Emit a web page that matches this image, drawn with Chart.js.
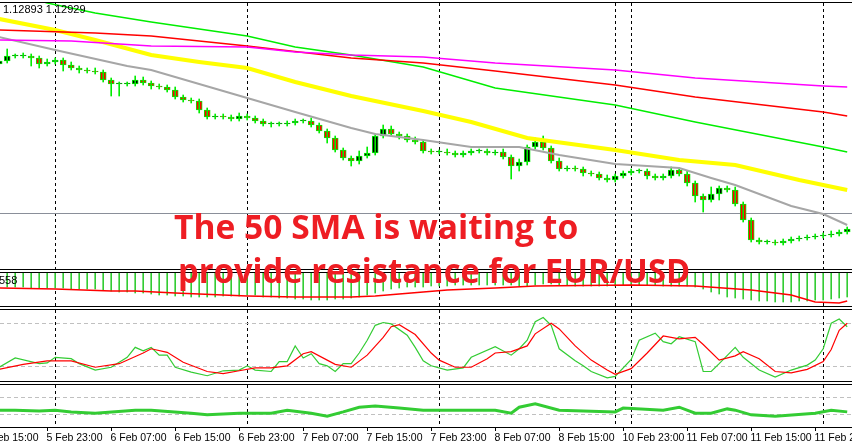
<!DOCTYPE html>
<html>
<head>
<meta charset="utf-8">
<script src="https://cdn.jsdelivr.net/npm/chart.js@4"></script>
<style>
  body { margin:0; width:852px; height:448px; background:#fff; overflow:hidden; position:relative; font-family:"Liberation Sans", sans-serif; }
  .pane { position:absolute; left:0; width:852px; }
  .hl { position:absolute; left:0; width:852px; height:1px; background:#000; }
  .big { position:absolute; color:#ee1d23; font-family:"Open Sans", sans-serif; font-weight:700; font-size:34px; line-height:34px; white-space:nowrap; transform-origin:0 0; z-index:5; }
  .lbl { position:absolute; font-size:11px; color:#000; z-index:4; }
</style>
</head>
<body>
<div class="pane" style="top:3px;height:266px"><canvas id="cMain"></canvas></div>
<div class="pane" style="top:273px;height:33px"><canvas id="cMacd"></canvas></div>
<div class="pane" style="top:310px;height:71px"><canvas id="cStoch"></canvas></div>
<div class="pane" style="top:385px;height:63px"><canvas id="cLow"></canvas></div>
<div class="hl" style="top:2px"></div>
<div class="hl" style="top:269px"></div>
<div class="hl" style="top:272px"></div>
<div class="hl" style="top:306px"></div>
<div class="hl" style="top:309px"></div>
<div class="hl" style="top:381px"></div>
<div class="hl" style="top:384px"></div>
<div class="hl" style="top:427px"></div>
<div class="lbl" style="left:3px;top:3px">1.12893 1.12929</div>
<div class="lbl" style="left:-1px;top:274px">558</div>
<div class="big" id="t1" style="left:174px;top:209px">The 50 SMA is waiting to</div>
<div class="big" id="t2" style="left:178px;top:253px">provide resistance for EUR/USD</div>
<script>
// H1 candles, 5 Feb 17:00 -> 12 Feb 01:00
const closes = [1.13228,1.13238,1.13238,1.13238,1.13234,1.13222,1.13226,1.13230,1.13220,1.13214,
  1.13210,1.13208,1.13206,1.13190,1.13182,1.13182,1.13182,1.13190,1.13184,1.13178,
  1.13176,1.13170,1.13156,1.13150,1.13148,1.13130,1.13116,1.13118,1.13116,1.13112,
  1.13118,1.13114,1.13108,1.13102,1.13102,1.13102,1.13104,1.13108,1.13108,1.13100,
  1.13088,1.13074,1.13050,1.13034,1.13028,1.13038,1.13044,1.13078,1.13092,1.13082,
  1.13078,1.13070,1.13066,1.13048,1.13046,1.13046,1.13044,1.13040,1.13044,1.13048,
  1.13048,1.13044,1.13046,1.13036,1.13018,1.13026,1.13056,1.13066,1.13054,1.13028,
  1.13012,1.13014,1.13012,1.13004,1.13002,1.12994,1.12990,1.12998,1.13004,1.13008,
  1.13008,1.12998,1.12994,1.12998,1.13010,1.13002,1.12984,1.12958,1.12950,1.12962,
  1.12974,1.12970,1.12942,1.12910,1.12870,1.12866,1.12866,1.12864,1.12868,1.12872,
  1.12874,1.12876,1.12878,1.12880,1.12882,1.12886,1.12892];
const opens = [1.13222,1.13228,1.13238,1.13238,1.13238,1.13234,1.13222,1.13226,1.13230,1.13220,
  1.13214,1.13210,1.13208,1.13206,1.13190,1.13182,1.13182,1.13182,1.13190,1.13184,
  1.13178,1.13176,1.13170,1.13156,1.13150,1.13148,1.13130,1.13116,1.13118,1.13116,
  1.13112,1.13118,1.13114,1.13108,1.13102,1.13102,1.13102,1.13104,1.13108,1.13108,
  1.13100,1.13088,1.13074,1.13050,1.13034,1.13028,1.13038,1.13044,1.13078,1.13092,
  1.13082,1.13078,1.13070,1.13066,1.13048,1.13046,1.13046,1.13044,1.13040,1.13044,
  1.13048,1.13048,1.13044,1.13046,1.13036,1.13018,1.13026,1.13056,1.13066,1.13054,
  1.13028,1.13012,1.13014,1.13012,1.13004,1.13002,1.12994,1.12990,1.12998,1.13004,
  1.13008,1.13008,1.12998,1.12994,1.12998,1.13010,1.13002,1.12984,1.12958,1.12950,
  1.12962,1.12974,1.12970,1.12942,1.12910,1.12870,1.12866,1.12866,1.12864,1.12868,
  1.12872,1.12874,1.12876,1.12878,1.12880,1.12882,1.12886];
// wick lengths in pips
const wickUp = [0.6,1.4,0.4,0.6,0.4,0.4,0.6,0.4,0.4,0.6, 0.4,0.4,0.6,0.4,0.4,0.4,0.4,0.8,0.6,0.4,
  0.4,0.4,0.6,0.4,0.4,0.4,0.4,0.4,0.4,0.4, 0.6,0.4,0.4,0.4,0.4,0.4,0.4,0.4,0.4,0.6,
  0.4,0.4,0.4,0.4,0.4,1.0,1.2,0.4,0.8,0.6, 0.4,0.4,0.6,0.4,0.4,0.4,0.6,0.4,0.4,0.4,
  0.4,0.4,0.4,0.6,0.4,0.6,0.4,0.8,1.2,0.4, 0.6,0.4,0.4,0.4,0.4,0.4,0.6,0.4,0.4,0.4,
  0.4,0.4,0.4,0.4,0.6,0.4,0.6,0.4,0.4,1.4, 0.4,0.4,0.6,0.4,0.4,0.4,0.4,0.4,0.4,0.4,
  0.4,0.4,0.4,0.4,0.6,0.4,0.4];
const wickDn = [0.4,0.4,0.4,0.4,1.6,0.8,0.4,0.4,1.2,0.4, 0.6,0.4,0.4,0.4,2.4,2.4,0.4,0.4,0.4,0.6,
  0.4,0.4,0.4,0.4,0.4,0.6,0.4,0.4,0.4,0.4, 0.4,0.4,0.4,0.4,0.6,0.4,0.4,0.4,0.4,0.4,
  0.4,1.0,0.4,0.4,1.0,0.6,0.4,0.4,0.4,0.4, 0.6,0.4,0.4,0.4,0.4,0.4,0.4,0.4,0.4,0.4,
  0.4,0.4,0.4,0.4,2.6,1.0,0.6,0.4,0.4,0.4, 0.4,0.4,0.4,0.6,0.4,0.4,0.4,0.4,0.4,0.4,
  0.4,0.6,0.4,0.4,0.4,0.4,0.6,1.2,2.4,0.4, 1.2,0.4,0.4,0.4,0.4,0.4,0.4,0.4,0.4,0.4,
  0.4,0.4,0.4,0.4,0.4,0.4,0.4];

// moving averages: [candle index, price]
const smaGray = [[0,1.13276],[7,1.13250],[16,1.13218],[19,1.13210],[25,1.13182],[31,1.13154],[37,1.13126],[44,1.13094],[47,1.13082],[53,1.13070],[59,1.13056],[65,1.13056],[70,1.13040],[77,1.13022],[85,1.13014],[89,1.12994],[92,1.12980],[99,1.12938],[103,1.12922],[106,1.12900]];
const sma50 = [[0,1.13312],[7,1.13290],[12,1.13270],[19,1.13240],[25,1.13226],[31,1.13214],[37,1.13186],[44,1.13158],[53,1.13128],[59,1.13106],[66,1.13074],[77,1.13050],[85,1.13030],[92,1.13020],[100,1.12990],[106,1.12970]];
const smaMagenta = [[0,1.13270],[9,1.13268],[19,1.13258],[31,1.13256],[37,1.13246],[44,1.13240],[53,1.13236],[62,1.13224],[77,1.13210],[87,1.13194],[103,1.13178],[106,1.13176]];
const smaRed = [[0,1.13290],[12,1.13284],[19,1.13278],[31,1.13258],[44,1.13234],[53,1.13224],[62,1.13208],[77,1.13180],[87,1.13156],[103,1.13126],[106,1.13118]];
const smaGreen = [[0,1.13372],[6,1.13344],[12,1.13324],[19,1.13306],[31,1.13278],[37,1.13256],[44,1.13240],[53,1.13216],[62,1.13174],[77,1.13140],[87,1.13106],[103,1.13056],[106,1.13046]];
const askLine = 1.12924;

// MACD (pips)
const macdHist = [-7,-7,-7,-7,-7.5,-7.5,-7.5,-7.5,-7.5,-8,-8,-8,-8,
  -8.5,-9,-9.5,-9.5,-10,-10,-10.5,-11,-11,-11.5,-11.5,-12,-12,
  -12,-12,-11.5,-11.5,-11.5,-11,-11,-12,-12,-12.5,-12.5,-13,-13,-13.5,-13.5,
  -13.5,-13,-13,-12.5,-12,-11,-10,-9,-8,-7.5,
  -7,-7,-7,-6.5,-6.5,-6.5,-6,-6,-6,-6,
  -6,-6,-6,-6,-6.5,-6.5,-6,-5.5,-5.5,-6,-6,-6.5,-6.5,-6.5,-6.5,
  -6.5,-6.5,-6,-6,-6,-6,-6,-6.5,-6.5,-6.5,-6.5,-7,-8,-9.5,-10.5,
  -12,-12.5,-13,-13.5,-14,-14,-14.5,-14.5,-14.5,-14,-14,-13.5,-13.5,-13,-12.5,-12];
const macdSignal = [[0,-7.5],[7,-8],[14,-9],[17,-9],[22,-10],[31,-11.5],[37,-12],[44,-12],[47,-11.5],[53,-9.5],[56,-8.5],[62,-7.5],[67,-6.5],[79,-6],[87,-6.5],[94,-8.5],[99,-11],[102,-14.5],[105,-15],[106,-14]];

// Stochastic
const stochMain = [[0,18],[2,31],[5,23],[6,24],[7,32],[9,30],[10,23],[12,14],[14,18],[16,32],[17,46],[18,41],[19,46],[20,35],[21,35],[22,18],[24,11],[26,6],[28,13],[30,14],[31,20],[32,14],[34,12],[35,26],[36,26],[37,48],[38,31],[39,37],[40,23],[41,20],[42,12],[43,23],[44,23],[45,38],[46,56],[47,77],[48,81],[49,79],[51,63],[52,46],[53,27],[54,20],[56,14],[58,17],[59,32],[62,47],[64,35],[65,44],[66,56],[67,82],[68,88],[69,77],[70,44],[72,27],[73,20],[74,12],[76,3],[77,5],[79,29],[80,56],[82,66],[83,54],[84,51],[85,61],[87,54],[88,12],[89,12],[90,23],[92,46],[93,32],[95,14],[97,4],[99,14],[101,21],[102,28],[103,44],[104,80],[105,86],[106,75]];
const stochSignal = [[0,15],[3,22],[6,27],[9,27],[12,18],[15,23],[18,38],[19,44],[21,39],[23,25],[26,12],[28,9],[30,13],[32,17],[34,17],[36,20],[38,37],[39,40],[41,28],[42,22],[44,18],[46,35],[48,60],[49,75],[50,78],[52,64],[54,38],[55,28],[57,18],[59,18],[61,30],[62,38],[64,40],[66,48],[67,65],[69,80],[70,72],[72,48],[74,28],[76,14],[77,8],[79,16],[81,38],[83,62],[85,58],[87,60],[88,50],[90,28],[92,34],[93,40],[95,30],[97,12],[99,10],[101,15],[103,26],[104,43],[105,70],[106,80]];

// lower oscillator
const lowOsc = [[0,39],[2,39],[5,37],[7,39],[9,35],[12,32],[17,39],[19,39],[24,32],[26,28],[30,32],[34,32],[36,39],[39,32],[41,25],[43,35],[45,46],[47,49],[50,44],[53,39],[62,39],[64,32],[65,46],[67,54],[70,39],[77,35],[78,44],[83,39],[85,46],[87,32],[89,32],[91,42],[92,39],[94,28],[97,25],[102,32],[104,39],[106,35]];

const daySeps = [7, 31, 55, 77, 79, 103];
const timeTicks = [-2, 6, 14, 22, 30, 38, 46, 54, 62, 70, 78, 86, 94, 102];
const timeLabels = ['5 Feb 15:00','5 Feb 23:00','6 Feb 07:00','6 Feb 15:00','6 Feb 23:00','7 Feb 07:00','7 Feb 15:00',
  '7 Feb 23:00','8 Feb 07:00','8 Feb 15:00','10 Feb 23:00','11 Feb 07:00','11 Feb 15:00','11 Feb 23:00'];

const pip = 0.0001;
const pts = arr => arr.map(p => ({ x: p[0], y: p[1] }));

const sepPlugin = {
  id: 'seps',
  beforeDatasetsDraw(chart) {
    const ctx = chart.ctx, xs = chart.scales.x, a = chart.chartArea;
    ctx.save();
    ctx.strokeStyle = '#000'; ctx.lineWidth = 1; ctx.setLineDash([3, 3]);
    daySeps.forEach(i => {
      const x = Math.round(xs.getPixelForValue(i)) + 0.5;
      ctx.beginPath(); ctx.moveTo(x, a.top); ctx.lineTo(x, a.bottom); ctx.stroke();
    });
    ctx.restore();
  }
};

function hLines(values, color, dash) {
  return {
    id: 'hl' + values.join('_'),
    beforeDatasetsDraw(chart) {
      const ctx = chart.ctx, ys = chart.scales.y, a = chart.chartArea;
      ctx.save();
      ctx.strokeStyle = color; ctx.lineWidth = 1; ctx.setLineDash(dash);
      values.forEach(v => {
        const y = Math.round(ys.getPixelForValue(v)) + 0.5;
        ctx.beginPath(); ctx.moveTo(a.left, y); ctx.lineTo(a.right, y); ctx.stroke();
      });
      ctx.restore();
    }
  };
}

const timePlugin = {
  id: 'timeaxis',
  afterDraw(chart) {
    const ctx = chart.ctx, xs = chart.scales.x, a = chart.chartArea;
    ctx.save();
    ctx.fillStyle = '#000'; ctx.strokeStyle = '#000';
    ctx.font = '10.5px "Liberation Sans", sans-serif';
    ctx.textBaseline = 'middle';
    timeTicks.forEach((i, k) => {
      const x = Math.round(xs.getPixelForValue(i)) + 0.5;
      ctx.beginPath(); ctx.moveTo(x, a.bottom); ctx.lineTo(x, a.bottom + 4); ctx.stroke();
      ctx.fillText(timeLabels[k], x - 1, a.bottom + 11);
    });
    ctx.restore();
  }
};

function baseOpts(ymin, ymax, padBottom) {
  return {
    responsive: true, maintainAspectRatio: false, animation: false,
    layout: { padding: { left: 0, right: 0, top: 0, bottom: padBottom || 0 } },
    plugins: { legend: { display: false }, tooltip: { enabled: false } },
    scales: {
      x: { type: 'linear', min: 0.1, max: 106.6, offset: false, display: false },
      y: { min: ymin, max: ymax, display: false }
    }
  };
}

function line(data, color, width) {
  return { type: 'line', data: pts(data), borderColor: color, borderWidth: width, pointRadius: 0, tension: 0, fill: false };
}

// main chart
new Chart(document.getElementById('cMain'), {
  type: 'bar',
  data: {
    datasets: [
      line(smaMagenta, '#ff00ff', 1.5),
      line(smaRed, '#ff0000', 1.5),
      line(smaGreen, '#00ee00', 1.5),
      line(sma50, '#ffff00', 4),
      line(smaGray, '#a6a6a6', 2),
      {
        type: 'bar', grouped: false, barThickness: 1,
        data: closes.map((c, i) => ({ x: i, y: [Math.min(c, opens[i]) - wickDn[i] * pip, Math.max(c, opens[i]) + wickUp[i] * pip] })),
        backgroundColor: '#00ee00'
      },
      {
        type: 'bar', grouped: false, barThickness: 6, minBarLength: 1,
        data: closes.map((c, i) => ({ x: i, y: [opens[i], c] })),
        backgroundColor: closes.map((c, i) => c < opens[i] ? '#ff0000' : '#000000'),
        borderColor: '#00ee00', borderWidth: 1, borderSkipped: false
      }
    ]
  },
  options: baseOpts(1.12812, 1.13344),
  plugins: [sepPlugin, hLines([askLine], '#8a8f99', [])]
});

// MACD
new Chart(document.getElementById('cMacd'), {
  type: 'bar',
  data: {
    datasets: [
      line(macdSignal, '#ff0000', 1.5),
      { type: 'bar', barThickness: 1, data: macdHist.map((v, i) => ({ x: i, y: v })), backgroundColor: '#33cc33' }
    ]
  },
  options: baseOpts(-16.5, 0),
  plugins: [sepPlugin]
});

// Stochastic
new Chart(document.getElementById('cStoch'), {
  type: 'line',
  data: {
    datasets: [
      line(stochSignal, '#ff0000', 1.2),
      line(stochMain, '#33cc33', 1.2)
    ]
  },
  options: baseOpts(-1.4, 98.6),
  plugins: [sepPlugin, hLines([80, 20], '#c0c0c0', [4, 3])]
});

// lower oscillator + time axis
new Chart(document.getElementById('cLow'), {
  type: 'line',
  data: { datasets: [line(lowOsc, '#33cc33', 3)] },
  options: baseOpts(-0.55, 98.2, 21),
  plugins: [sepPlugin, hLines([70, 30], '#c0c0c0', [4, 3]), timePlugin]
});

// fit headline widths to the reference
[['t1', 404], ['t2', 512]].forEach(([id, w]) => {
  const el = document.getElementById(id);
  el.style.transform = 'scaleX(' + (w / el.offsetWidth) + ')';
});
</script>
</body>
</html>
